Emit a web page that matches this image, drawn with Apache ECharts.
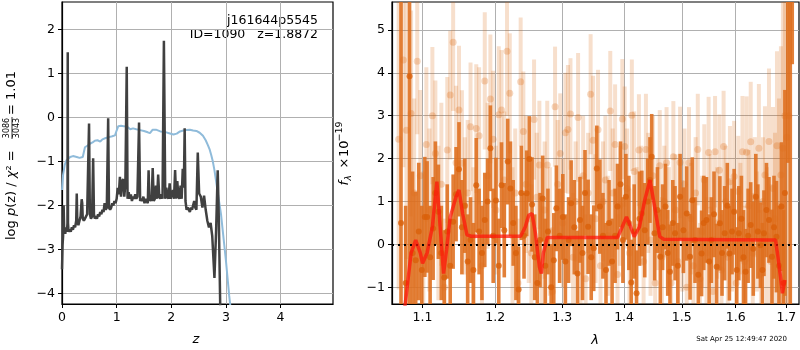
<!DOCTYPE html>
<html>
<head>
<meta charset="utf-8">
<script src="https://cdn.jsdelivr.net/npm/echarts@6.0.0/dist/echarts.min.js"></script>
<style>
  html, body { margin: 0; padding: 0; background: #fff; }
  #main { width: 800px; height: 350px; }
</style>
</head>
<body>
<div id="main"></div>
<script>
// --- p(z) panel ---
var pzZ = [0.00, 0.01, 0.02, 0.03, 0.04, 0.05, 0.06, 0.07, 0.08, 0.09, 0.10, 0.105, 0.11, 0.12, 0.14, 0.16, 0.18, 0.20, 0.22, 0.24,
  0.26, 0.27, 0.28, 0.30, 0.32, 0.34, 0.36, 0.37, 0.38, 0.40, 0.42, 0.44, 0.46, 0.48, 0.495, 0.51, 0.53, 0.55, 0.57, 0.585,
  0.60, 0.62, 0.64, 0.66, 0.68, 0.70, 0.72, 0.74, 0.76, 0.78, 0.80, 0.82, 0.845, 0.86, 0.88, 0.90, 0.92, 0.94, 0.96, 0.98,
  1.00, 1.02, 1.04, 1.06, 1.08, 1.10, 1.12, 1.14, 1.16, 1.185, 1.20, 1.22, 1.24, 1.26, 1.28, 1.30, 1.32, 1.34, 1.36, 1.38,
  1.41, 1.43, 1.45, 1.47, 1.49, 1.51, 1.53, 1.55, 1.57, 1.585, 1.60, 1.62, 1.64, 1.66, 1.68, 1.70, 1.72, 1.74, 1.76, 1.78,
  1.80, 1.82, 1.84, 1.865, 1.89, 1.91, 1.93, 1.95, 1.97, 1.99, 2.01, 2.03, 2.05, 2.07, 2.09, 2.11, 2.13, 2.15, 2.17, 2.19,
  2.21, 2.23, 2.245, 2.26, 2.28, 2.30, 2.32, 2.34, 2.36, 2.38, 2.40, 2.42, 2.44, 2.46, 2.485, 2.51, 2.54, 2.57, 2.60, 2.63,
  2.66, 2.69, 2.72, 2.75, 2.79, 2.82, 2.85, 2.87, 2.90];
var pzLogP = [-3.45, -2.9, -2.7, -2.0, -2.6, -2.5, -2.65, -2.5, -2.55, -2.6, -2.4, 1.48, -2.4, -2.6, -2.55, -2.6, -2.5, -2.55, -2.45, -2.5,
  -2.35, -1.73, -2.35, -2.45, -2.35, -2.25, -1.86, -1.95, -2.3, -2.35, -2.3, -2.25, -2.2, -2.2, -0.14, -2.2, -2.3, -2.25, -0.93, -2.2,
  -2.3, -2.25, -2.3, -2.2, -2.25, -2.15, -2.2, -2.1, -2.15, -1.95, -2.1, -2.05, -0.02, -2.05, -2.1, -2.05, -1.95, -2.0, -1.9, -1.95,
  -1.85, -1.6, -1.75, -1.35, -1.8, -1.45, -1.4, -1.8, -1.5, 1.15, -1.85, -1.7, -1.85, -1.75, -1.9, -1.8, -1.85, -1.75, -1.85, -1.8,
  -0.12, -1.9, -1.85, -1.9, -1.8, -1.95, -1.85, -1.9, -1.95, -1.2, -1.9, -1.85, -1.9, -1.15, -1.9, -1.85, -1.55, -1.85, -1.3, -1.8,
  -1.85, -1.75, -1.85, 1.74, -1.85, -1.6, -1.8, -1.85, -1.5, -1.85, -1.75, -1.65, -1.85, -1.2, -1.85, -1.45, -1.8, -1.85, -1.55, -1.85,
  -1.17, -1.6, -0.25, -1.9, -2.1, -2.05, -2.1, -2.15, -2.05, -2.1, -2.0, -1.9, -2.05, -2.1, -0.8, -1.73, -1.8, -2.05, -1.78, -2.1,
  -2.35, -2.5, -2.4, -2.7, -3.65, -2.6, -1.2, -2.3, -4.6];

var chiZ = [0.00, 0.02, 0.05, 0.08, 0.11, 0.15, 0.20, 0.23, 0.27, 0.32, 0.38, 0.42, 0.47, 0.51, 0.56, 0.60, 0.65, 0.70, 0.74, 0.80,
  0.86, 0.92, 0.97, 1.00, 1.03, 1.08, 1.13, 1.20, 1.25, 1.30, 1.36, 1.43, 1.50, 1.57, 1.61, 1.66, 1.72, 1.80, 1.88, 1.96,
  2.04, 2.10, 2.16, 2.22, 2.28, 2.34, 2.40, 2.46, 2.52, 2.58, 2.63, 2.67, 2.70, 2.73, 2.76, 2.79, 2.82, 2.85, 2.88, 2.91,
  2.94, 2.97, 3.00, 3.03, 3.06, 3.10];
var chiLogP = [-1.65, -1.3, -1.08, -0.98, -0.95, -0.9, -0.88, -0.87, -0.9, -0.92, -0.9, -0.68, -0.64, -0.6, -0.57, -0.53, -0.52, -0.55, -0.5, -0.47,
  -0.45, -0.43, -0.41, -0.3, -0.2, -0.19, -0.2, -0.22, -0.27, -0.25, -0.27, -0.29, -0.31, -0.34, -0.36, -0.28, -0.28, -0.32, -0.33, -0.36,
  -0.39, -0.37, -0.32, -0.3, -0.29, -0.28, -0.3, -0.31, -0.35, -0.42, -0.52, -0.63, -0.72, -0.85, -1.0, -1.2, -1.45, -1.7, -1.95, -2.2,
  -2.55, -2.9, -3.25, -3.65, -4.05, -4.5];

var zTicks = [0, 1, 2, 3, 4];
var logpTicks = [-4, -3, -2, -1, 0, 1, 2];

// --- spectrum panel ---
var lamTicks = [1.1, 1.2, 1.3, 1.4, 1.5, 1.6, 1.7];
var fluxTicks = [-1, 0, 1, 2, 3, 4, 5];

var lamDark = [1.072, 1.078, 1.083, 1.087, 1.091, 1.095, 1.099, 1.103, 1.106, 1.110, 1.114, 1.117, 1.121, 1.125, 1.129, 1.133, 1.137, 1.141, 1.145, 1.149,
  1.153, 1.157, 1.161, 1.165, 1.169, 1.173, 1.177, 1.181, 1.185, 1.189, 1.193, 1.197, 1.201, 1.205, 1.209, 1.213, 1.218, 1.222, 1.226, 1.230,
  1.234, 1.238, 1.242, 1.246, 1.250, 1.254, 1.258, 1.262, 1.266, 1.270, 1.274, 1.278, 1.283, 1.287, 1.291, 1.296, 1.301, 1.305, 1.310, 1.314,
  1.319, 1.324, 1.328, 1.332, 1.336, 1.341, 1.346, 1.350, 1.355, 1.360, 1.365, 1.370, 1.375, 1.380, 1.385, 1.389, 1.394, 1.398, 1.403, 1.408,
  1.412, 1.417, 1.421, 1.426, 1.430, 1.435, 1.440, 1.444, 1.447, 1.452, 1.457, 1.462, 1.466, 1.471, 1.475, 1.479, 1.484, 1.488, 1.493, 1.497,
  1.503, 1.509, 1.515, 1.519, 1.524, 1.530, 1.536, 1.540, 1.545, 1.550, 1.554, 1.559, 1.564, 1.570, 1.574, 1.579, 1.584, 1.588, 1.593, 1.597,
  1.602, 1.606, 1.611, 1.615, 1.619, 1.624, 1.629, 1.634, 1.639, 1.643, 1.648, 1.652, 1.655, 1.660, 1.665, 1.671, 1.675, 1.680, 1.685, 1.690,
  1.694, 1.697, 1.703, 1.708, 1.712];
var fluxDark = [0.5, -0.9, 3.92, -0.2, -0.37, 0.3, -0.6, 0.64, 0.64, -0.3, 0.37, 1.2, 0.76, -0.2, -0.77, 0.3, -0.5, 0.53, 1.17, 1.75,
  0.4, 0.9, -0.4, 0.1, -0.6, 1.38, 0.3, -0.2, 0.57, 1.0, 2.24, 0.2, 1.02, -0.5, 1.38, 0.33, 1.93, 1.3, 0.5, -0.2,
  -1.05, 1.2, 0.2, 1.19, 1.99, 0.93, -0.3, -0.9, 0.1, 1.07, -0.5, 0.3, -1.0, -0.37, 0.84, 0.2, 0.64, -0.4, 0.1, 0.96,
  0.4, -0.68, 0.57, -0.2, 1.2, 0.41, -0.3, -0.09, 1.77, 0.88, 0.2, -0.6, 0.5, -0.4, 0.2, 0.88, 1.4, 0.1, 1.11, 0.5,
  -0.89, 0.3, -1.14, 0.6, 0.72, 0.33, 1.0, 1.5, 2.04, 0.26, 0.8, -0.29, 0.4, 0.88, -0.2, -0.64, 0.5, 0.26, -0.5, 1.11,
  0.33, 0.72, -0.29, 1.03, 0.1, -0.71, -0.21, 0.5, 0.57, -0.4, 0.1, 0.7, -0.52, 0.49, -0.2, 0.26, 0.9, -0.21, 0.3, 0.76,
  -0.6, 0.26, 0.6, -0.3, -0.64, 0.2, 0.45, -0.1, 1.11, 0.3, -0.02, -0.6, 0.26, 0.8, 0.57, -0.29, 0.4, 0.18, -0.5, 0.88,
  -0.9, 1.2, 6.5, -2.0, 6.0];
var errDark = [6.0, 1.8, 5.5, 1.9, 1.6, 1.6, 1.5, 1.4, 1.3, 1.2, 1.2, 1.2, 1.1, 1.1, 1.1, 1.1, 1.1, 1.1, 1.1, 1.1,
  1.1, 1.1, 1.1, 1.0, 1.1, 1.1, 1.0, 1.1, 1.1, 1.0, 1.0, 1.1, 1.0, 1.1, 1.0, 1.1, 1.0, 1.1, 1.0, 1.1,
  1.0, 1.1, 1.0, 1.0, 1.0, 1.1, 1.0, 1.0, 1.1, 1.0, 1.1, 1.0, 1.0, 1.1, 1.0, 1.1, 1.0, 1.1, 1.0, 1.0,
  1.1, 1.0, 1.0, 1.1, 1.0, 1.1, 1.0, 1.0, 1.0, 1.1, 1.0, 1.1, 1.0, 1.0, 1.1, 1.0, 1.0, 1.0, 1.0, 1.1,
  1.0, 1.1, 1.0, 1.1, 1.0, 1.1, 1.0, 1.0, 1.0, 1.1, 1.0, 1.1, 1.0, 1.0, 1.0, 1.1, 1.0, 1.1, 1.0, 1.0,
  1.0, 1.1, 1.0, 1.0, 1.0, 1.1, 1.0, 1.1, 1.0, 1.1, 1.0, 1.0, 1.0, 1.1, 1.0, 1.1, 1.0, 1.1, 1.0, 1.0,
  1.0, 1.1, 1.0, 1.1, 1.0, 1.1, 1.0, 1.1, 1.0, 1.1, 1.0, 1.1, 1.0, 1.1, 1.0, 1.1, 1.2, 1.3, 1.4, 1.5,
  1.7, 2.4, 4.6, 8.0, 1.8];

var lamLight = [1.069, 1.075, 1.079, 1.085, 1.089, 1.093, 1.097, 1.101, 1.105, 1.109, 1.113, 1.117, 1.121, 1.125, 1.129, 1.133, 1.137, 1.141, 1.145, 1.149,
  1.153, 1.157, 1.161, 1.165, 1.169, 1.173, 1.177, 1.181, 1.185, 1.189, 1.193, 1.197, 1.201, 1.205, 1.209, 1.213, 1.217, 1.221, 1.225, 1.229,
  1.233, 1.237, 1.241, 1.245, 1.249, 1.253, 1.257, 1.261, 1.265, 1.269, 1.273, 1.277, 1.281, 1.285, 1.289, 1.293, 1.297, 1.301, 1.305, 1.309,
  1.313, 1.317, 1.321, 1.325, 1.329, 1.333, 1.337, 1.341, 1.345, 1.349, 1.353, 1.357, 1.361, 1.365, 1.369, 1.373, 1.377, 1.381, 1.385, 1.389,
  1.393, 1.397, 1.401, 1.405, 1.409, 1.413, 1.417, 1.421, 1.425, 1.429, 1.433, 1.437, 1.441, 1.445, 1.449, 1.453, 1.457, 1.461, 1.465, 1.469,
  1.473, 1.477, 1.481, 1.485, 1.489, 1.493, 1.497, 1.501, 1.505, 1.509, 1.513, 1.517, 1.521, 1.525, 1.529, 1.533, 1.537, 1.541, 1.545, 1.549,
  1.553, 1.557, 1.561, 1.565, 1.569, 1.573, 1.577, 1.581, 1.585, 1.589, 1.593, 1.597, 1.601, 1.605, 1.609, 1.613, 1.617, 1.621, 1.625, 1.629,
  1.633, 1.637, 1.641, 1.645, 1.649, 1.653, 1.657, 1.661, 1.665, 1.669, 1.673, 1.677, 1.681, 1.685, 1.689, 1.693, 1.697, 1.701, 1.705];
var fluxLight = [2.45, 4.3, 2.66, 3.05, 1.2, 4.27, 1.6, -0.2, 2.33, 0.8, 3.0, 2.12, 0.5, 1.4, -1.0, 2.2, 3.48, 4.71, 1.9, 3.13,
  1.89, 0.9, 1.2, 2.74, 0.2, 2.7, 2.53, -0.5, 3.81, 1.6, 3.39, 2.45, 0.8, 3.02, 3.13, 1.5, 4.5, 3.52, 0.2, 1.2,
  -0.9, 3.79, 2.63, 1.4, 0.6, -0.2, 2.91, 1.1, 1.85, -0.6, 0.8, 1.85, 0.3, -1.1, 3.21, 1.4, 2.12, 0.5, 2.6, 2.68,
  3.04, -0.3, 1.0, 2.96, 0.1, 1.6, -0.8, 1.2, 3.5, 2.43, 0.6, 2.67, -0.5, 1.0, 1.5, 0.2, 3.11, 1.2, 2.33, -0.7,
  0.9, 2.92, 2.28, 1.3, -0.2, 3.01, 1.7, 0.4, 2.2, 0.9, -0.4, 2.21, 1.2, 0.1, 1.6, -0.9, 0.7, 1.83, -0.3, 1.0,
  1.9, 0.4, -0.9, 2.04, 0.8, -0.4, 1.91, 0.2, 1.4, -1.0, 1.9, 0.6, -0.5, 1.2, 2.21, -0.8, 0.3, 1.5, -0.2, 2.14,
  0.8, -1.1, 2.16, 0.5, 1.73, -0.6, 2.28, 1.0, -0.3, 1.46, 0.2, 1.58, -0.9, 1.23, 0.6, 2.16, -0.4, 2.15, 0.9, 2.39,
  -0.2, 1.1, 0.3, 2.24, -0.7, 1.0, 1.62, 0.2, 2.4, -0.4, 1.3, 0.6, 2.3, 0.9, 1.62, 2.24, 3.0, 2.5, 3.0];
var errLight = [3.5, 2.5, 3.0, 2.4, 2.2, 1.7, 2.0, 1.9, 1.8, 1.9, 1.6, 1.7, 1.8, 1.9, 1.6, 1.7, 1.5, 1.6, 1.8, 1.5,
  1.7, 1.6, 1.7, 1.5, 1.6, 1.5, 1.6, 1.5, 1.6, 1.7, 1.5, 1.6, 1.5, 1.6, 1.4, 1.6, 1.5, 1.4, 1.6, 1.5,
  1.5, 1.5, 1.4, 1.6, 1.5, 1.6, 1.4, 1.5, 1.5, 1.5, 1.6, 1.5, 1.5, 1.5, 1.4, 1.5, 1.4, 1.5, 1.4, 1.5,
  1.3, 1.5, 1.4, 1.5, 1.5, 1.4, 1.5, 1.4, 1.4, 1.5, 1.5, 1.4, 1.5, 1.4, 1.5, 1.4, 1.4, 1.5, 1.4, 1.4,
  1.4, 1.4, 1.4, 1.4, 1.5, 1.3, 1.4, 1.4, 1.3, 1.4, 1.4, 1.3, 1.4, 1.3, 1.4, 1.4, 1.3, 1.3, 1.4, 1.3,
  1.3, 1.4, 1.3, 1.3, 1.3, 1.4, 1.3, 1.3, 1.3, 1.3, 1.3, 1.3, 1.3, 1.3, 1.3, 1.3, 1.3, 1.3, 1.3, 1.3,
  1.3, 1.3, 1.3, 1.3, 1.3, 1.3, 1.3, 1.3, 1.3, 1.3, 1.3, 1.3, 1.3, 1.3, 1.3, 1.3, 1.3, 1.3, 1.3, 1.4,
  1.4, 1.4, 1.4, 1.5, 1.5, 1.5, 1.6, 1.6, 1.7, 1.8, 1.9, 2.0, 2.2, 2.5, 3.0, 4.0, 5.0, 5.0, 5.0];

var lamModel = [1.076, 1.078, 1.085, 1.091, 1.097, 1.100, 1.106, 1.113, 1.119, 1.121, 1.124, 1.128, 1.132, 1.137, 1.145, 1.149, 1.154, 1.160, 1.166,
  1.237, 1.244, 1.249, 1.254, 1.259, 1.265, 1.268, 1.271, 1.277, 1.389, 1.397, 1.404, 1.411, 1.417, 1.426, 1.435, 1.444, 1.447, 1.452,
  1.461, 1.468, 1.673, 1.678, 1.682, 1.688, 1.692, 1.697];
var fluxModel = [-1.6, -1.3, -0.2, 0.1, -0.2, -0.44, -0.2, 0.41, 1.46, 1.46, 0.26, -0.68, -0.13, 0.64, 1.11, 1.27, 0.72, 0.22, 0.19,
  0.19, 0.41, 0.68, 0.72, 0.26, -0.52, -0.68, -0.21, 0.16, 0.16, 0.41, 0.64, 0.41, 0.18, 0.41, 1.03, 1.5, 1.46, 0.88,
  0.18, 0.12, 0.1, 0.1, -0.21, -0.75, -1.14, -0.83];

var FONT = 'DejaVu Sans';
var lamMin = 1.0605, lamMax = 1.7259;

function fmtNum(v) {
  return v < 0 ? '\u2212' + Math.abs(v) : String(v);
}

function axisStyle(ticks, formatter) {
  return {
    axisLine: { show: true, onZero: false, lineStyle: { color: '#000', width: 1.2 } },
    axisTick: { show: true, length: 4, customValues: ticks, lineStyle: { color: '#000', width: 1 } },
    axisLabel: { customValues: ticks, formatter: formatter, color: '#000', fontSize: 12.5, fontFamily: FONT, margin: 7 },
    splitLine: { show: true, lineStyle: { color: '#b0b0b0', width: 1 } }
  };
}

function errorBars(width, color) {
  return function (params, api) {
    var x = api.value(0), y = api.value(1), e = api.value(2);
    var top = api.coord([x, y + e]);
    var bot = api.coord([x, y - e]);
    var rect = echarts.graphic.clipRectByRect({
      x: top[0] - width / 2, y: top[1], width: width, height: bot[1] - top[1]
    }, params.coordSys);
    return rect && { type: 'rect', shape: rect, style: { fill: color } };
  };
}

var pzLine = pzZ.map(function (z, i) { return [z, pzLogP[i]]; });
var chiLine = chiZ.map(function (z, i) { return [z, chiLogP[i]]; });
var darkData = lamDark.map(function (l, i) { return [Math.log10(l), fluxDark[i], errDark[i]]; });
var lightData = lamLight.map(function (l, i) { return [Math.log10(l), fluxLight[i], errLight[i]]; });
var modelData = lamModel.map(function (l, i) { return [Math.log10(l), fluxModel[i]]; });

var chart = echarts.init(document.getElementById('main'), null, { renderer: 'canvas' });

var option = {
  animation: false,
  backgroundColor: '#fff',
  textStyle: { fontFamily: FONT },
  grid: [
    { left: 62, right: 467, top: 2, bottom: 46, show: true, borderColor: '#000', borderWidth: 1.2, backgroundColor: 'transparent' },
    { left: 392, right: 1, top: 2, bottom: 46, show: true, borderColor: '#000', borderWidth: 1.2, backgroundColor: 'transparent' }
  ],
  xAxis: [
    Object.assign({ type: 'value', gridIndex: 0, min: 0, max: 4.96 }, axisStyle(zTicks, fmtNum)),
    Object.assign({ type: 'value', gridIndex: 1, min: Math.log10(lamMin), max: Math.log10(lamMax) },
      axisStyle(lamTicks.map(function (l) { return Math.log10(l); }), function (v) { return Math.pow(10, v).toFixed(1); }))
  ],
  yAxis: [
    Object.assign({ type: 'value', gridIndex: 0, min: -4.24, max: 2.62 }, axisStyle(logpTicks, fmtNum)),
    Object.assign({ type: 'value', gridIndex: 1, min: -1.39, max: 5.65 }, axisStyle(fluxTicks, fmtNum))
  ],
  series: [
    {
      type: 'line', xAxisIndex: 0, yAxisIndex: 0, data: chiLine, showSymbol: false, z: 3,
      lineStyle: { color: '#8fbbda', width: 2 }
    },
    {
      type: 'line', xAxisIndex: 0, yAxisIndex: 0, data: pzLine, showSymbol: false, z: 4,
      lineStyle: { color: '#404040', width: 2.5 }
    },
    {
      type: 'custom', xAxisIndex: 1, yAxisIndex: 1, data: lightData, z: 2,
      encode: { x: 0, y: 1 }, renderItem: errorBars(4, 'rgba(217,95,2,0.2)')
    },
    {
      type: 'scatter', xAxisIndex: 1, yAxisIndex: 1, data: lightData, z: 3,
      symbolSize: 7, itemStyle: { color: 'rgba(217,95,2,0.3)' }
    },
    {
      type: 'custom', xAxisIndex: 1, yAxisIndex: 1, data: darkData, z: 4,
      encode: { x: 0, y: 1 }, renderItem: errorBars(3.6, 'rgba(222,110,30,0.88)')
    },
    {
      type: 'scatter', xAxisIndex: 1, yAxisIndex: 1, data: darkData, z: 5,
      symbolSize: 6, itemStyle: { color: '#d9600a' }
    },
    {
      type: 'line', xAxisIndex: 1, yAxisIndex: 1, data: modelData, showSymbol: false, z: 6,
      lineStyle: { color: 'rgba(255,20,10,0.72)', width: 3.5 },
      markLine: {
        silent: true, symbol: 'none', label: { show: false },
        lineStyle: { color: '#000', type: [2, 4], width: 2 },
        data: [{ yAxis: 0 }]
      }
    }
  ],
  graphic: [
    // title inside left panel
    { type: 'text', x: 318, y: 21, style: { text: 'j161644p5545', font: '12.5px "DejaVu Sans"', fill: '#000', align: 'right', verticalAlign: 'middle' } },
    { type: 'text', x: 318, y: 34.5, style: { text: 'ID=1090   z=1.8872', font: '12.5px "DejaVu Sans"', fill: '#000', align: 'right', verticalAlign: 'middle' } },
    // left y label
    {
      type: 'group', x: 12, y: 154, rotation: Math.PI / 2,
      children: [
        { type: 'text', x: -86, y: 0, style: { text: 'log {i|p}(z) / {i|χ}² =', font: '13px "DejaVu Sans"', fill: '#000',
          align: 'left', verticalAlign: 'middle', rich: { i: { fontStyle: 'italic', fontSize: 13, fontFamily: FONT } } } },
        { type: 'text', x: 26, y: -5, style: { text: '3086', font: '8px "DejaVu Sans"', fill: '#000', align: 'center', verticalAlign: 'middle' } },
        { type: 'line', shape: { x1: 15, y1: 0, x2: 37, y2: 0 }, style: { stroke: '#000', lineWidth: 0.8 } },
        { type: 'text', x: 26, y: 5, style: { text: '3043', font: '8px "DejaVu Sans"', fill: '#000', align: 'center', verticalAlign: 'middle' } },
        { type: 'text', x: 39, y: 0, style: { text: '= 1.01', font: '13px "DejaVu Sans"', fill: '#000', align: 'left', verticalAlign: 'middle' } }
      ]
    },
    // right y label
    {
      type: 'group', x: 345, y: 153.5, rotation: Math.PI / 2,
      children: [
        { type: 'text', x: -32, y: 0, style: { text: 'f', font: 'italic 13px "DejaVu Sans"', fill: '#000', align: 'left', verticalAlign: 'middle' } },
        { type: 'text', x: -27, y: 4, style: { text: 'λ', font: 'italic 9px "DejaVu Sans"', fill: '#000', align: 'left', verticalAlign: 'middle' } },
        { type: 'text', x: -9.5, y: 0, style: { text: '×', font: '13px "DejaVu Sans"', fill: '#000', align: 'center', verticalAlign: 'middle' } },
        { type: 'text', x: -3.5, y: 0, style: { text: '10', font: '13px "DejaVu Sans"', fill: '#000', align: 'left', verticalAlign: 'middle' } },
        { type: 'text', x: 12, y: -5, style: { text: '\u221219', font: '9.5px "DejaVu Sans"', fill: '#000', align: 'left', verticalAlign: 'middle' } }
      ]
    },
    // x axis names
    { type: 'text', x: 196, y: 340, style: { text: 'z', font: 'italic 13px "DejaVu Sans"', fill: '#000', align: 'center', verticalAlign: 'middle' } },
    { type: 'text', x: 595, y: 341, style: { text: 'λ', font: 'italic 13px "DejaVu Sans"', fill: '#000', align: 'center', verticalAlign: 'middle' } },
    // timestamp
    { type: 'text', x: 787, y: 339, style: { text: 'Sat Apr 25 12:49:47 2020', font: '7px "DejaVu Sans"', fill: '#000', align: 'right', verticalAlign: 'middle' } }
  ]
};

chart.setOption(option);
</script>
</body>
</html>
